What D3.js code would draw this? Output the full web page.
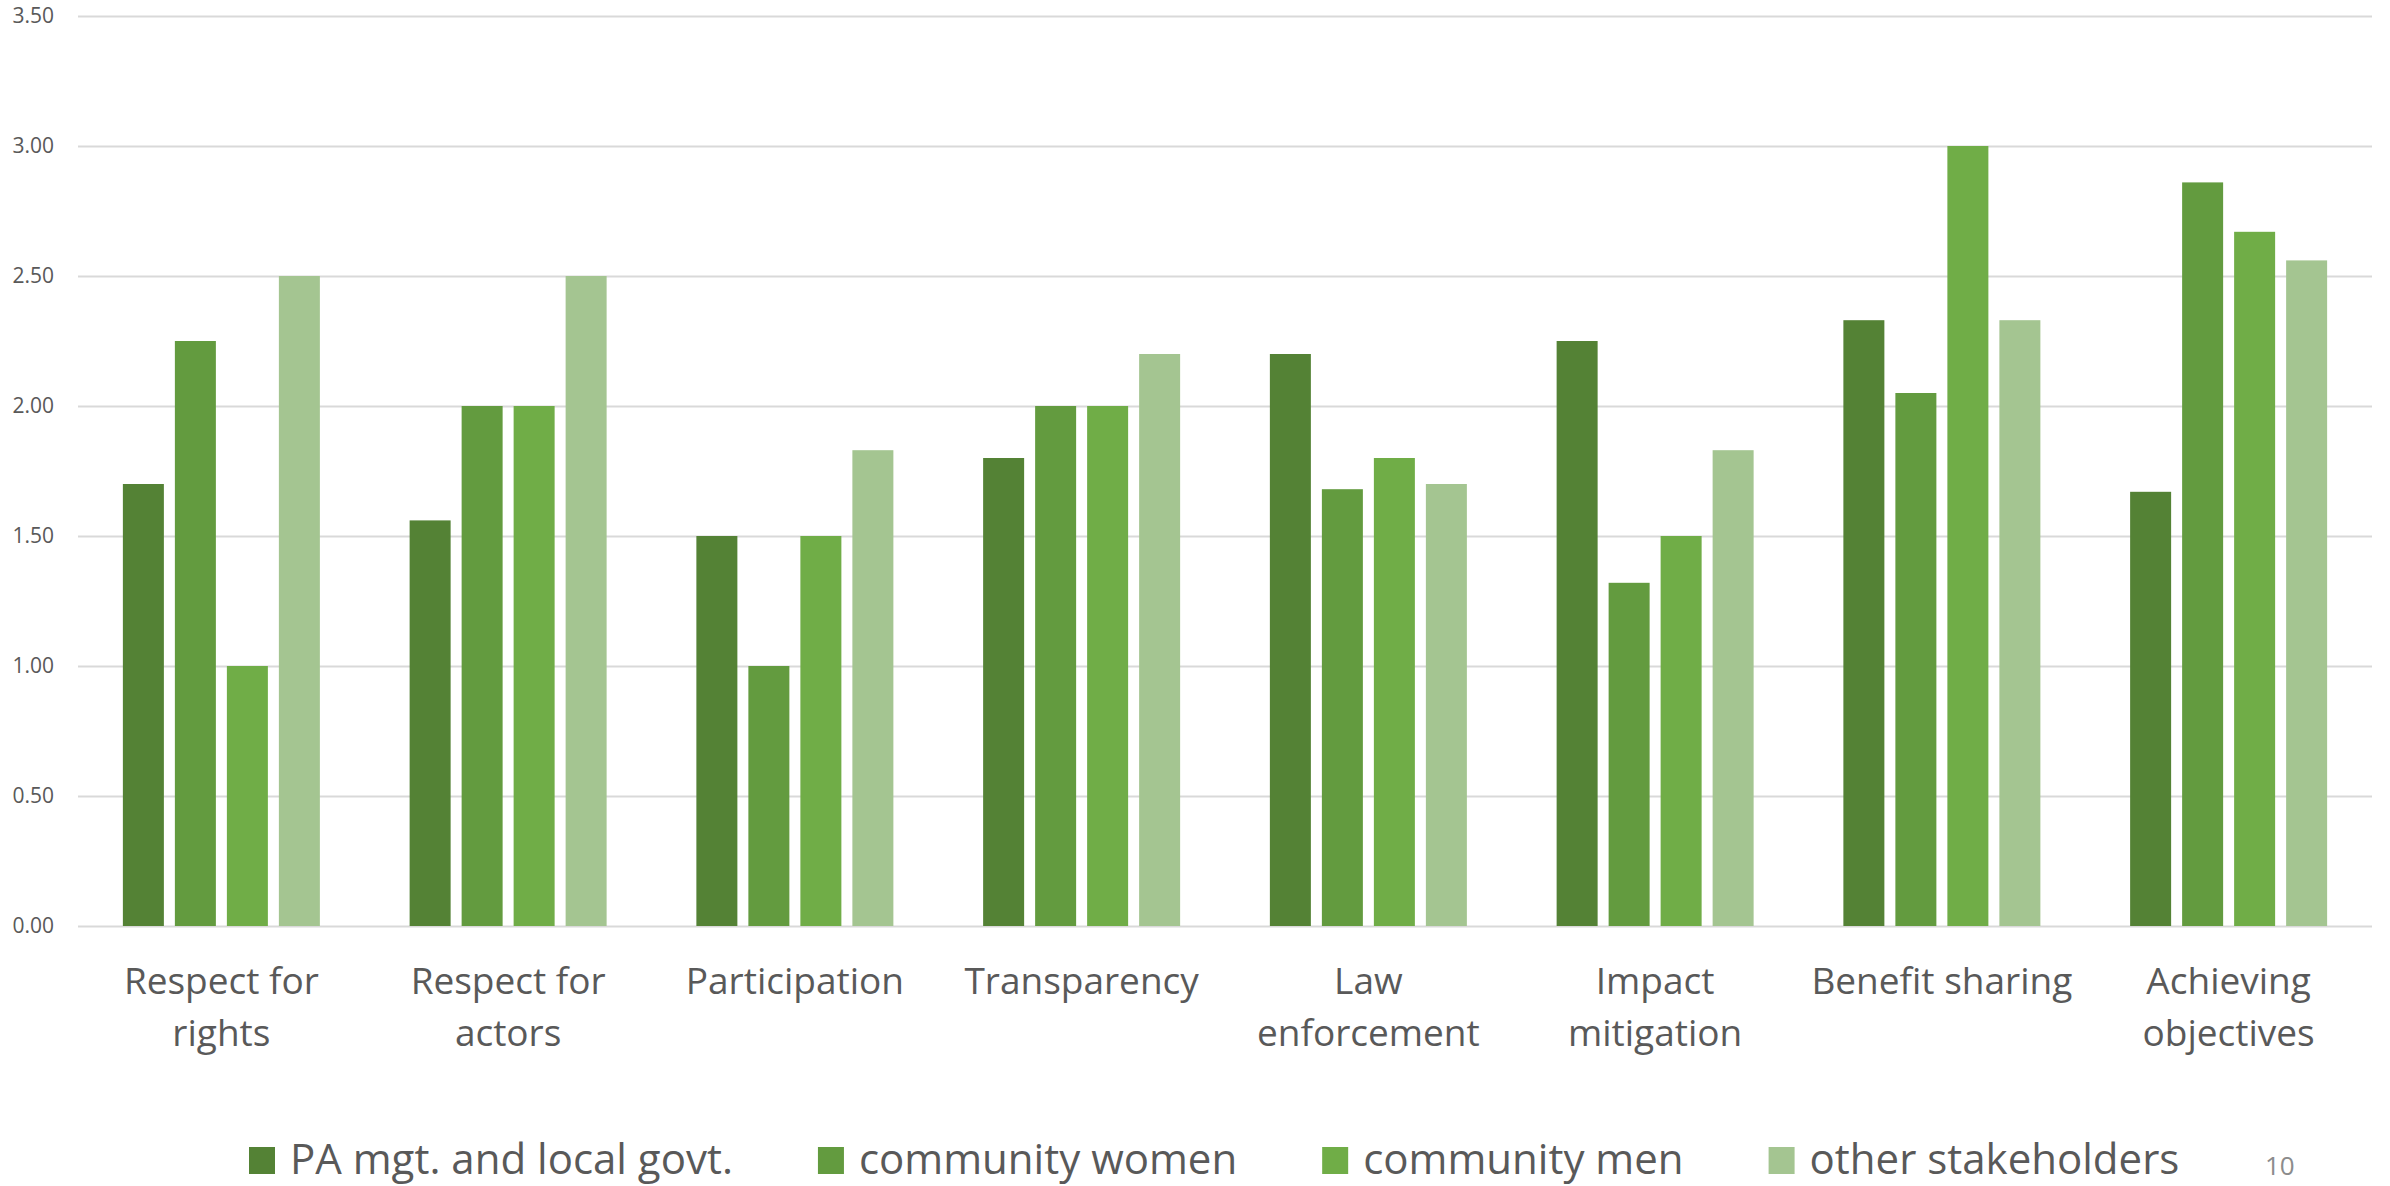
<!DOCTYPE html>
<html>
<head>
<meta charset="utf-8">
<script src="https://cdn.jsdelivr.net/npm/d3@7"></script>
<style>
  html, body { margin: 0; padding: 0; background: #fff; }
  svg { display: block; font-family: "Open Sans", "Noto Sans", sans-serif; }
</style>
</head>
<body>
<svg id="chart" width="2390" height="1186"></svg>
<script>
// ---- data ----
const categories = ["Respect for rights", "Respect for actors", "Participation", "Transparency",
                    "Law enforcement", "Impact mitigation", "Benefit sharing", "Achieving objectives"];
const categoryLines = [["Respect for", "rights"], ["Respect for", "actors"], ["Participation"], ["Transparency"],
                       ["Law", "enforcement"], ["Impact", "mitigation"], ["Benefit sharing"], ["Achieving", "objectives"]];
const seriesNames = ["PA mgt. and local govt.", "community women", "community men", "other stakeholders"];
const paMgt      = [1.70, 1.56, 1.50, 1.80, 2.20, 2.25, 2.33, 1.67];
const commWomen  = [2.25, 2.00, 1.00, 2.00, 1.68, 1.32, 2.05, 2.86];
const commMen    = [1.00, 2.00, 1.50, 2.00, 1.80, 1.50, 3.00, 2.67];
const otherStake = [2.50, 2.50, 1.83, 2.20, 1.70, 1.83, 2.33, 2.56];
const yTicks = [0, 0.5, 1.0, 1.5, 2.0, 2.5, 3.0, 3.5];
const colors = ["#548235", "#639b3f", "#70ad47", "#a4c591"];
const pageNumber = "10";

const seriesValues = [paMgt, commWomen, commMen, otherStake];

// ---- layout ----
const svg = d3.select("#chart");
const plot = { left: 78, right: 2372, top: 16, bottom: 926 };

const x0 = d3.scaleBand().domain(categories).range([plot.left, plot.right]).paddingInner(0).paddingOuter(0);
const x1 = d3.scaleBand().domain(seriesNames).range([0, x0.bandwidth()])
  .paddingInner(0.2115).paddingOuter(0.863);
const y = d3.scaleLinear().domain([0, 3.5]).range([plot.bottom, plot.top]);

// gridlines + y tick labels
const yAxis = svg.append("g")
  .attr("transform", `translate(${plot.left},0)`)
  .call(d3.axisLeft(y).tickValues(yTicks).tickFormat(d3.format(".2f"))
        .tickSize(-(plot.right - plot.left)).tickPadding(24));
yAxis.select(".domain").remove();
yAxis.selectAll(".tick line").attr("stroke", "#d9d9d9").attr("stroke-width", 2);
yAxis.selectAll(".tick text").attr("fill", "#595959").style("font-size", "21px")
  .style("font-family", "'Open Sans', sans-serif");

// bars
const groups = svg.append("g").selectAll("g")
  .data(categories).join("g")
  .attr("transform", d => `translate(${x0(d)},0)`);

groups.selectAll("rect")
  .data((c, i) => seriesNames.map((s, j) => ({ s, j, v: seriesValues[j][i] })))
  .join("rect")
  .attr("x", d => x1(d.s))
  .attr("width", x1.bandwidth())
  .attr("y", d => y(d.v))
  .attr("height", d => y(0) - y(d.v))
  .attr("fill", d => colors[d.j]);

// x axis labels
const xAxis = svg.append("g")
  .attr("transform", `translate(0,${plot.bottom})`)
  .call(d3.axisBottom(x0).tickSize(0).tickFormat(""));
xAxis.select(".domain").remove();
xAxis.selectAll(".tick").each(function(d, i) {
  const t = d3.select(this).append("text")
    .attr("fill", "#595959")
    .attr("text-anchor", "middle")
    .style("font-size", "37px")
    .style("font-family", "'Open Sans', sans-serif");
  categoryLines[i].forEach((line, k) => {
    t.append("tspan").attr("x", 0).attr("y", 68 + k * 52).text(line);
  });
});

// legend
const legend = svg.append("g").attr("transform", "translate(0,1174)");
let lx = 249;
seriesNames.forEach((name, j) => {
  legend.append("rect").attr("x", lx).attr("y", -27).attr("width", 26).attr("height", 27)
    .attr("fill", colors[j]);
  const txt = legend.append("text").attr("x", lx + 41).attr("y", 0)
    .attr("fill", "#595959").style("font-size", "42px")
    .style("font-family", "'Open Sans', sans-serif").text(name);
  const w = txt.node().getComputedTextLength();
  lx = lx + 41 + w + 85;
});

// page number
svg.append("text").attr("x", 2265).attr("y", 1175).attr("fill", "#8c8c8c")
  .style("font-size", "26px").style("font-family", "'Open Sans', sans-serif").text(pageNumber);
</script>
</body>
</html>
